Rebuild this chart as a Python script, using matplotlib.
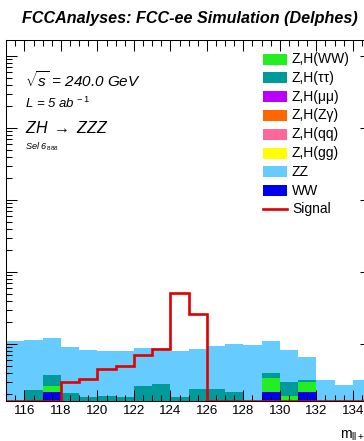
import numpy as np
import matplotlib
matplotlib.use("Agg")
import matplotlib.pyplot as plt
from matplotlib.patches import Rectangle
from matplotlib.lines import Line2D
from matplotlib.ticker import MultipleLocator, LogLocator, NullFormatter

# ---------------- data ----------------
bin_edges = list(range(115, 136))  # 1 GeV bins, 115..135
ww        = [0, 0, 0.218, 0, 0, 0, 0, 0, 0, 0, 0, 0, 0, 0, 0.218, 0, 0.218, 0, 0, 0]
zh_ww     = [0, 0, 0.046, 0, 0, 0, 0, 0, 0, 0, 0, 0, 0, 0, 0.122, 0.19, 0.076, 0, 0, 0]
zh_tautau = [0, 0.23, 0.107, 0.21, 0.184, 0.19, 0.184, 0.26, 0.28, 0.182, 0.235, 0.235,
             0.216, 0, 0.06, 0.104, 0.026, 0, 0, 0]
zh_mumu   = [0] * 20
zh_zgamma = [0] * 20
zh_qq     = [0] * 20
zh_gg     = [0] * 20
zz        = [1.09, 0.89, 0.83, 0.71, 0.63, 0.61, 0.61, 0.61, 0.59, 0.62, 0.615, 0.70,
             0.80, 0.97, 0.70, 0.52, 0.35, 0.32, 0.27, 0.32]
signal    = [0, 0, 0, 0.294, 0.323, 0.445, 0.495, 0.71, 0.844, 5.16, 2.63, 0,
             0, 0, 0, 0, 0, 0, 0, 0]
x_ticks = [116, 118, 120, 122, 124, 126, 128, 130, 132, 134]

legend_labels = ["Z,H(WW)", "Z,H(ττ)", "Z,H(μμ)", "Z,H(Zγ)", "Z,H(qq)", "Z,H(gg)", "ZZ", "WW"]
legend_colors = ["#22ee22", "#009a9a", "#bb00ff", "#ff6600", "#ff6699", "#ffff00", "#66ccff", "#0000ee"]
# stacking order bottom -> top
stack = [(ww, "#0000ee"), (zh_ww, "#22ee22"), (zh_tautau, "#009a9a"), (zh_mumu, "#bb00ff"),
         (zh_zgamma, "#ff6600"), (zh_qq, "#ff6699"), (zh_gg, "#ffff00"), (zz, "#66ccff")]
sig_color = "#e00000"

# ---------------- style ----------------
plt.rcParams['font.family'] = ['Liberation Sans', 'DejaVu Sans']
plt.rcParams['mathtext.fontset'] = 'custom'
plt.rcParams['mathtext.rm'] = 'Liberation Sans'
plt.rcParams['mathtext.it'] = 'Liberation Sans:italic'
plt.rcParams['mathtext.bf'] = 'Liberation Sans:bold'
plt.rcParams['mathtext.sf'] = 'Liberation Sans'

W, H = 364, 441
fig = plt.figure(figsize=(W / 100, H / 100), dpi=100)


def fx(x):
    return x / W


def fy(y):
    return 1 - y / H


ax_l, ax_r, ax_t, ax_b = 6.25, 371.0, 40.0, 401.0
ax = fig.add_axes([fx(ax_l), fy(ax_b), (ax_r - ax_l) / W, (ax_b - ax_t) / H])
ax.set_yscale('log')
ymin = 10 ** (-57 / 72)
ymax = 10 ** (304 / 72)
ax.set_xlim(115, 135)
ax.set_ylim(ymin, ymax)

edges = np.array(bin_edges, dtype=float)
cum = np.zeros(len(edges) - 1)
floor = 1e-3
for vals, color in stack:
    v = np.array(vals, dtype=float)
    top = cum + v
    ax.stairs(np.maximum(top, floor), edges, baseline=np.maximum(cum, floor),
              fill=True, color=color, lw=0)
    cum = top

sig = np.array(signal, dtype=float)
sig_plot = np.where(sig > 0, sig, ymin)
ax.stairs(sig_plot, edges, baseline=None, color=sig_color, lw=1.9, zorder=5)

# ticks
ax.xaxis.set_minor_locator(MultipleLocator(0.5))
ax.set_xticks(x_ticks)
ax.yaxis.set_major_locator(LogLocator(base=10, numticks=20))
ax.yaxis.set_minor_locator(LogLocator(base=10, subs=np.arange(2, 10), numticks=20))
ax.yaxis.set_major_formatter(NullFormatter())
ax.yaxis.set_minor_formatter(NullFormatter())
ax.tick_params(which='both', direction='in', top=True, right=True, width=0.75, colors='black')
ax.tick_params(axis='x', which='major', length=8, labelsize=9.6, pad=3)
ax.tick_params(axis='x', which='minor', length=4.3)
ax.tick_params(axis='y', which='major', length=8)
ax.tick_params(axis='y', which='minor', length=4)
for s in ax.spines.values():
    s.set_linewidth(0.75)

# x label (cut by the right edge of the picture, as in the original)
fig.text(fx(340), fy(438), r"m$_{\mathrm{ll+ll}}$ [GeV]", fontsize=10, ha='left', va='baseline')

# ---------------- texts ----------------
fig.text(fx(22), fy(22.5), "FCCAnalyses: FCC-ee Simulation (Delphes)", fontsize=11.6,
         fontweight='bold', fontstyle='italic', ha='left', va='baseline')
fig.text(fx(25), fy(87.3), r"$\sqrt{s}$ = 240.0 GeV", fontsize=11, fontstyle='italic',
         ha='left', va='baseline')
fig.text(fx(25), fy(108), r"L = 5 ab$^{\,-1}$", fontsize=9.5, fontstyle='italic',
         ha='left', va='baseline')
fig.text(fx(25), fy(132.7), r"ZH $\rightarrow$ ZZZ", fontsize=11.5, fontstyle='italic',
         ha='left', va='baseline')
fig.text(fx(25), fy(150), r"Sel 6$_{\,888}$", fontsize=6.6, fontstyle='italic',
         ha='left', va='baseline')

# ---------------- legend ----------------
row0, dy = 59.0, 18.8
for i, (lab, col) in enumerate(zip(legend_labels, legend_colors)):
    yc = row0 + i * dy
    fig.patches.append(Rectangle((fx(263.3), fy(yc + 5.5)), 23.4 / W, 11 / H,
                                 transform=fig.transFigure, facecolor=col, edgecolor='none'))
    fig.text(fx(292), fy(yc), lab, fontsize=10, ha='left', va='center')
yc = row0 + 8 * dy
fig.lines.append(Line2D([fx(263.3), fx(286.7)], [fy(yc), fy(yc)], transform=fig.transFigure,
                        color=sig_color, lw=1.9))
fig.text(fx(292), fy(yc), "Signal", fontsize=10, ha='left', va='center')

fig.savefig("out.png", dpi=100)
